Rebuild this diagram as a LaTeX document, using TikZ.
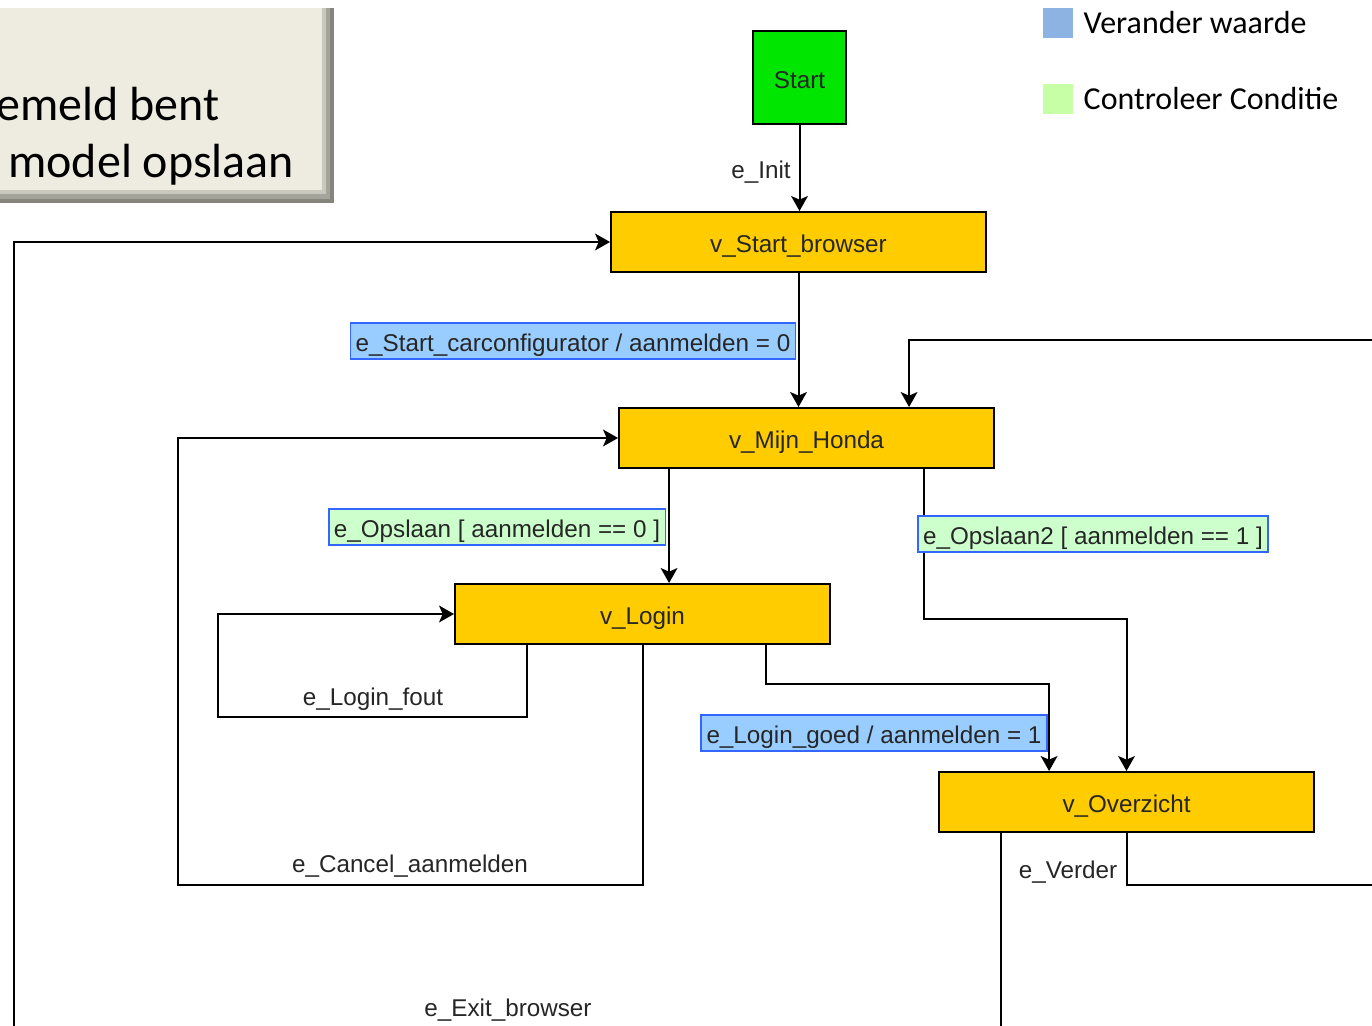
\documentclass[tikz,border=0pt]{standalone}
\usepackage{fontspec}
\setmainfont{Liberation Sans}
\newfontfamily\legendfont{Carlito}
\usetikzlibrary{positioning,calc,arrows.meta}

\definecolor{stategeel}{HTML}{FFCC00}
\definecolor{startgroen}{HTML}{00E600}
\definecolor{setblauw}{HTML}{99CCFF}
\definecolor{checkgroen}{HTML}{CCFFCC}
\definecolor{randblauw}{HTML}{3366FF}
\definecolor{legblauw}{HTML}{8DB3E2}
\definecolor{leggroen}{HTML}{C6FFA6}
\definecolor{notitie}{HTML}{EEECE1}
\definecolor{schaduw}{HTML}{85857D}
\definecolor{tekstgrijs}{HTML}{262626}

\begin{document}
\begin{tikzpicture}[
x=0.02cm,
y=-0.02cm,
every node/.style={
font=\fontsize{13.8}{16}\selectfont,
text=tekstgrijs
},
diatext/.style={text height=12pt, text depth=0pt},
vertex/.style={
diatext,
draw,
line width=1.1pt,
fill=stategeel,
minimum width=7.5cm,
minimum height=1.2cm
},
startbox/.style={vertex, fill=startgroen, minimum width=1.86cm, minimum height=1.86cm},
setlabel/.style={diatext, draw=randblauw, line width=1pt, fill=setblauw, inner xsep=3pt, inner ysep=4.3pt},
checklabel/.style={setlabel, fill=checkgroen},
edgelabel/.style={inner sep=1pt},
legbox/.style={minimum size=0.6cm, inner sep=0pt},
legtext/.style={inner sep=0pt, text=black, font=\legendfont\fontsize{18.2}{22}\selectfont},
notetext/.style={anchor=base west, inner sep=0pt, text=black, font=\legendfont\fontsize{27.3}{32}\selectfont},
arr/.style={-{Stealth[length=8.5pt,width=9.5pt,inset=2pt]}, line width=1.15pt}
]

\useasboundingbox (0,0) rectangle (1372,1026);
\fill[white] (0,0) rectangle (1372,1026);
\clip (0,0) rectangle (1372,1026);

% notitie linksboven
\fill[schaduw] (-5,8) rectangle (334,203);
\fill[schaduw!70!notitie] (-5,8) rectangle (330,199);
\fill[schaduw!35!notitie] (-5,8) rectangle (326,194);
\fill[notitie] (-5,8) rectangle (322,190);

\node[notetext] (note1) at (-4,121) {emeld bent};

\node[notetext] (note2) at (8,178) {model opslaan};

% legenda
\node[legbox, fill=legblauw] (legset) at (1058,23) {};
\node[legtext, right=0.2cm of legset] (legsettxt) {Verander waarde};

\node[legbox, fill=leggroen] (legchk) at (1058,99) {};
\node[legtext, right=0.2cm of legchk] (legchktxt) {Controleer Conditie};

% toestanden
\node[startbox] (S) at (799.5,77.5) {Start};

\node[vertex] (SB) at (798.5,242) {v\_Start\_browser};

\node[vertex] (MH) at (806.5,438) {v\_Mijn\_Honda};

\node[vertex] (Lg) at (642.5,614) {v\_Login};

\node[vertex] (Ov) at (1126.5,802) {v\_Overzicht};

% overgangen
\draw[arr] (S.south) -- (S.south |- SB.north);
\draw[arr] (SB.south) -- (SB.south |- MH.north);
\draw[arr] ($(MH.south west)+(51,0)$) -- ($(Lg.north west)+(215,0)$);
\draw[arr] ($(MH.south west)+(306,0)$) |- ($(Ov.north)+(0,-152)$) -- (Ov.north);
\draw[arr] ($(Lg.south west)+(73,0)$) |- (218,717) |- (Lg.west);
\draw[arr] ($(Lg.south west)+(312,0)$) |- ($(Ov.north west)+(111,-87)$) -- ($(Ov.north west)+(111,0)$);
\draw[arr] ($(Lg.south)+(0.5,0)$) |- (178,885) |- (MH.west);
\draw[arr] ($(Ov.south west)+(63,0)$) |- (14,1060) |- (SB.west);
\draw[arr] (Ov.south) |- (1420,885) |- ($(MH.north west)+(291,-67)$) -- ($(MH.north west)+(291,0)$);

% labels
\node[edgelabel] (lInit) at (761,172) {e\_Init};

\node[setlabel] (lStart) at (573,341) {e\_Start\_carconfigurator / aanmelden = 0};

\node[checklabel] (lOps) at (497,527) {e\_Opslaan [ aanmelden == 0 ]};

\node[checklabel] (lOps2) at (1093,534) {e\_Opslaan2 [ aanmelden == 1 ]};

\node[edgelabel] (lFout) at (373,699) {e\_Login\_fout};

\node[setlabel] (lGoed) at (874,733) {e\_Login\_goed / aanmelden = 1};

\node[edgelabel] (lCancel) at (410,866) {e\_Cancel\_aanmelden};

\node[edgelabel] (lVerder) at (1068,872) {e\_Verder};

\node[edgelabel] (lExit) at (508,1010) {e\_Exit\_browser};

\end{tikzpicture}
\end{document}
